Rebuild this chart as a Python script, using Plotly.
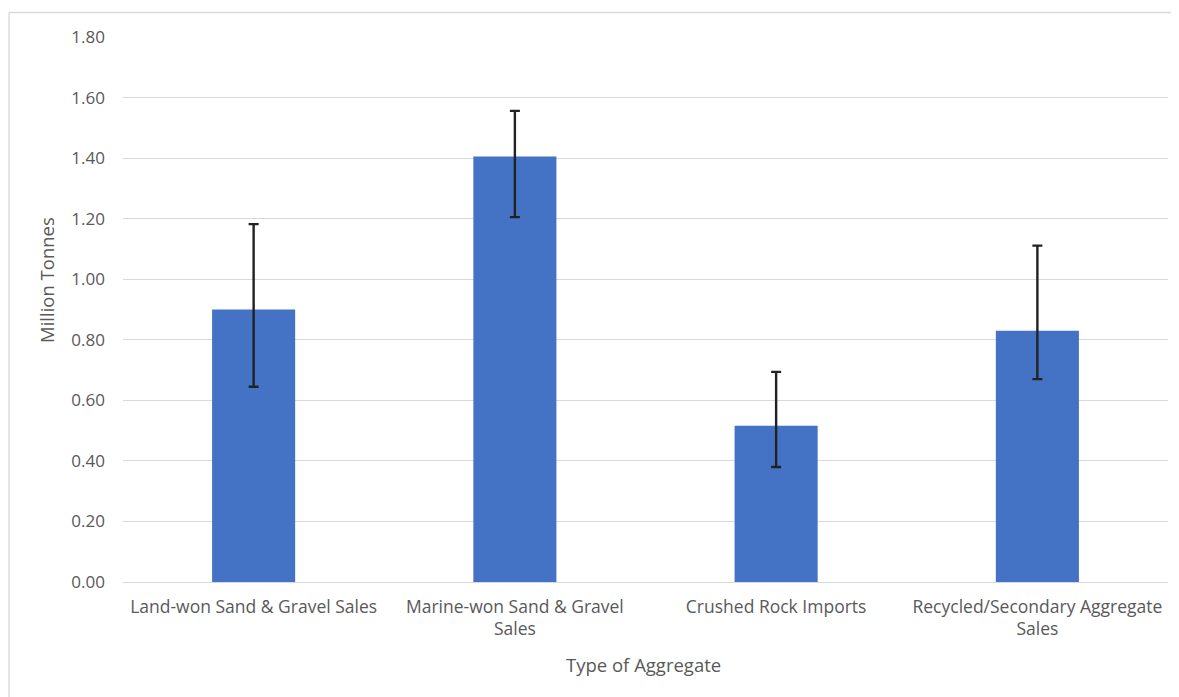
import plotly.graph_objects as go

categories = [
    "Land-won Sand & Gravel Sales",
    "Marine-won Sand & Gravel<br>Sales",
    "Crushed Rock Imports",
    "Recycled/Secondary Aggregate<br>Sales",
]
values = [0.90, 1.405, 0.516, 0.830]
upper = [1.182, 1.556, 0.694, 1.111]
lower = [0.645, 1.205, 0.380, 0.670]

err_plus = [u - v for u, v in zip(upper, values)]
err_minus = [v - l for v, l in zip(values, lower)]

# page places the figure at an 8px offset
OFF = 8
W, H = 1179 - OFF, 697 - OFF
ml, mr, mt, mb = 123 - OFF, 11, 37 - OFF, 115 - OFF + 8

fig = go.Figure()
fig.add_trace(go.Bar(
    x=categories, y=values,
    marker=dict(color="#4472C4", line=dict(width=0)),
    width=0.318,
    error_y=dict(type="data", symmetric=False, array=err_plus, arrayminus=err_minus,
                 color="#222222", thickness=2.4, width=5),
))

pw = W - ml - mr
ph = H - mt - mb
def px_x(x):
    return (x - OFF - ml) / pw
def px_y(y):
    return (H - mb - (y - OFF)) / ph

border = "#D9D9D9"
fig.add_shape(type="line", xref="paper", yref="paper",
              x0=px_x(9), x1=px_x(1185), y0=px_y(12.5), y1=px_y(12.5),
              line=dict(color=border, width=1.3))
fig.add_shape(type="line", xref="paper", yref="paper",
              x0=px_x(9), x1=px_x(9), y0=px_y(12.5), y1=px_y(705),
              line=dict(color=border, width=1.3))

title_font = dict(family="Open Sans", size=18.5, color="#595959")
fig.add_annotation(text="Million Tonnes", xref="paper", yref="paper",
                   x=px_x(46), y=px_y(280), xanchor="center", yanchor="middle",
                   textangle=-90, showarrow=False, font=title_font)
fig.add_annotation(text="Type of Aggregate", xref="paper", yref="paper",
                   x=px_x(643), y=px_y(664), xanchor="center", yanchor="middle",
                   showarrow=False, font=title_font)

fig.update_layout(
    width=W, height=H,
    margin=dict(l=ml, r=mr, t=mt, b=mb),
    paper_bgcolor="white", plot_bgcolor="white",
    font=dict(family="Open Sans", size=17, color="#595959"),
    showlegend=False,
    xaxis=dict(
        showgrid=False, showline=False, ticks="", tickangle=0,
        ticklabelstandoff=12,
        tickfont=dict(size=17.5, color="#595959"),
    ),
    yaxis=dict(
        range=[0, 1.8], dtick=0.2, tickformat=".2f",
        showgrid=True, gridcolor="#D9D9D9", gridwidth=1,
        zeroline=True, zerolinecolor="#D9D9D9", zerolinewidth=1,
        showline=False, ticks="", ticklabelstandoff=17,
        tickfont=dict(size=17, color="#595959"),
    ),
)

fig.write_html("out.html")
